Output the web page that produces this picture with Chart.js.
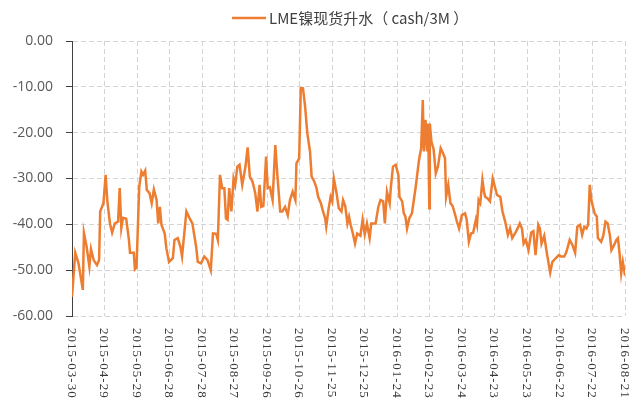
<!DOCTYPE html>
<html>
<head>
<meta charset="utf-8">
<script src="https://cdn.jsdelivr.net/npm/chart.js@4/dist/chart.umd.min.js"></script>
<style>
  body { margin: 0; background: #fff; }
  #wrap { width: 640px; height: 414px; }
</style>
</head>
<body>
<div id="wrap"><canvas id="nickelChart" width="640" height="414"></canvas></div>
<script>
// series name and axis labels
const seriesName = 'LME镍现货升水（ cash/3M ）';
const tickLabels = ['2015-03-30','2015-04-29','2015-05-29','2015-06-28','2015-07-28','2015-08-27',
  '2015-09-26','2015-10-26','2015-11-25','2015-12-25','2016-01-24','2016-02-23',
  '2016-03-24','2016-04-23','2016-05-23','2016-06-22','2016-07-22','2016-08-21'];
const tickStepDays = 30;

// days since 2015-03-30
const dayNums = [0,3,6,10,11,13.5,16,17.5,20,23,25,26,29,31,32.5,35,37,39.5,42.5,44,45.5,47,50,52.5,53.5,57,58,59.5,
  62,64,65.5,67.5,69,71.5,73.5,75.5,78,79.5,81,82.5,85.5,87,89.5,93,94.5,97.5,100,101.5,105.5,108.5,111,114.5,116,119,122,125,
  128,130,133,134.5,136.5,138.5,140.5,142,143.5,145,147,149,150.5,152.5,154.5,157,160,162,164,166.5,169,171,173,174.5,176.5,
  179,180.5,182.5,185,187.5,189.5,192,194,196.5,199,201,203.5,206,207,209.5,211,213,215,217,219.5,221,223.5,225.5,227,229.5,
  231.5,233.5,234.5,236.5,238.5,240,241.5,244,246,248.5,250,252,254,255.5,257,259,261,263,266,268,270,272,274.5,276,280,
  282.5,284.5,287,288.5,290.5,293,294,296,298.5,301,302,304.5,306,307.5,309,311,313.5,317,320,322,323.5,324.5,326,327.5,
  328.5,329.5,330,331.5,333.5,335.5,337.5,340,342,344,345,347,349,351,353,355,357,359.5,362.5,364,366,368,370,372.5,373.5,
  375,376.5,378.5,380,381,383.5,385.5,388,390,392,395,397,399.5,402,404,406,408.5,411,413,415,416.5,418.5,421,423.5,425.5,
  427.5,430,431.5,433,435.5,438,441,443,446,449,451,454,456,459,461.5,464,466,468.5,470.5,472.5,474.5,476,477.5,479,480.5,
  482,484,485,488,490,492,494,496,497.5,500,502,503.5,505,506.5,508,509,510];

const premium = [-55.8,-46.2,-48.5,-54.3,-41.9,-44.9,-49.2,-45.4,-47.8,-48.9,-47.8,-37.2,-35.4,-29.2,-34.7,-39.8,-41.8,-39.8,-39.4,-32.1,-40.8,-38.6,-38.8,-43.4,-46.2,-46.2,-49.8,-49.4,
  -31.8,-28.5,-29.2,-28.3,-32.5,-33.2,-35.4,-32.4,-34.7,-39.8,-36.2,-40.1,-42.0,-45.2,-48.2,-47.4,-43.4,-43.0,-44.9,-47.0,-37.2,-38.7,-39.8,-44.9,-48.2,-48.5,-47.0,-47.8,
  -50.0,-42.0,-42.1,-43.4,-29.2,-32.1,-32.1,-38.7,-39.0,-32.1,-37.2,-30.0,-31.4,-27.4,-27.0,-31.4,-27.4,-23.2,-29.6,-30.7,-33.2,-37.2,-31.4,-36.2,-36.0,
  -25.2,-32.1,-31.9,-34.7,-22.7,-29.6,-37.2,-37.2,-36.2,-38.0,-34.7,-32.9,-34.7,-26.7,-25.6,-10.3,-10.3,-14.3,-20.1,-24.1,-29.6,-30.7,-32.1,-34.0,-35.4,
  -37.2,-38.7,-40.5,-36.8,-34.0,-35.0,-30.0,-33.2,-36.5,-37.2,-34.7,-36.0,-39.8,-38.3,-40.1,-42.0,-44.2,-42.0,-42.5,-39.0,-42.2,-39.8,-43.0,-39.8,-39.8,
  -36.2,-34.7,-35.0,-39.8,-32.9,-35.4,-32.1,-27.4,-27.0,-29.2,-34.0,-35.0,-37.6,-38.3,-40.9,-38.7,-37.6,-31.8,-26.0,-23.4,-12.9,-24.1,-17.2,-24.1,
  -18.0,-36.5,-18.0,-22.0,-23.6,-28.9,-27.4,-23.4,-24.4,-25.6,-34.0,-31.4,-35.4,-36.0,-37.6,-39.4,-40.9,-38.0,-37.6,-39.0,-43.8,-42.0,-41.8,-39.0,-40.1,
  -34.7,-35.4,-30.3,-32.9,-34.0,-34.4,-35.0,-30.0,-31.8,-33.6,-34.0,-37.2,-39.4,-42.3,-40.9,-43.0,-42.0,-40.9,-39.8,-40.9,-44.2,-43.4,-45.6,-41.8,-41.5,
  -46.7,-40.1,-40.9,-44.2,-42.5,-46.4,-50.5,-48.2,-47.4,-46.7,-47.0,-47.0,-46.0,-43.4,-44.5,-46.2,-40.5,-40.1,-42.3,-40.5,-40.9,-40.1,-31.4,-34.7,-36.2,
  -37.6,-38.3,-43.0,-43.8,-42.5,-39.4,-39.8,-42.3,-45.6,-44.5,-43.4,-43.0,-46.4,-50.7,-48.2,-49.6,-51.2];

const yMin = -60, yMax = 0, yStep = 10;

const points = dayNums.map((d, i) => ({ x: d, y: premium[i] }));

// legend drawn by hand so it sits over the plot area like the original
const legendPlugin = {
  id: 'legendLine',
  afterDraw(chart){
    const ctx = chart.ctx;
    ctx.save();
    ctx.strokeStyle = '#ED7D31';
    ctx.lineWidth = 2.5;
    ctx.beginPath();
    ctx.moveTo(232, 18);
    ctx.lineTo(266, 18);
    ctx.stroke();
    ctx.fillStyle = '#404040';
    ctx.font = '15px "Noto Sans CJK SC"';
    ctx.textBaseline = 'middle';
    ctx.textAlign = 'left';
    ctx.fillText(seriesName, 269, 18);
    ctx.restore();
  }
};

// x labels read top-to-bottom, as in the source
const xLabelPlugin = {
  id: 'xLabels',
  afterDraw(chart){
    const ctx = chart.ctx;
    const xs = chart.scales.x;
    ctx.save();
    ctx.fillStyle = '#3a3a3a';
    ctx.font = '13px "Liberation Serif"';
    ctx.letterSpacing = '1px';
    ctx.textBaseline = 'middle';
    ctx.textAlign = 'left';
    tickLabels.forEach((lab, i) => {
      const px = xs.getPixelForValue(i * tickStepDays);
      ctx.save();
      ctx.translate(px - 1, 328);
      ctx.rotate(Math.PI / 2);
      ctx.fillText(lab, 0, 0);
      ctx.restore();
    });
    ctx.restore();
  }
};

new Chart(document.getElementById('nickelChart'), {
  type: 'line',
  data: {
    datasets: [{
      label: seriesName,
      data: points,
      borderColor: '#ED7D31',
      backgroundColor: '#ED7D31',
      borderWidth: 2.5,
      pointRadius: 0,
      tension: 0
    }]
  },
  options: {
    responsive: false,
    animation: false,
    devicePixelRatio: 1,
    layout: { padding: { top: 41, right: 15, left: 0, bottom: 0 } },
    plugins: { legend: { display: false }, tooltip: { enabled: false } },
    scales: {
      x: {
        type: 'linear',
        min: 0,
        max: tickStepDays * (tickLabels.length - 1),
        afterBuildTicks: (axis) => { axis.ticks = tickLabels.map((_, i) => ({ value: i * tickStepDays })); },
        afterFit: (axis) => { axis.height = 98; },
        ticks: { display: false },
        grid: { color: '#d4d4d4', lineWidth: 1, drawTicks: false },
        border: { display: false, dash: [5, 3] }
      },
      y: {
        min: yMin,
        max: yMax,
        afterFit: (axis) => { axis.width = 72; },
        ticks: {
          stepSize: yStep,
          padding: 13,
          color: '#595959',
          font: { family: '"Open Sans"', size: 14 },
          callback: (v) => v.toFixed(2)
        },
        grid: { color: '#d4d4d4', lineWidth: 1, tickLength: 6, tickColor: '#404040', tickBorderDash: [] },
        border: { display: true, color: '#404040', width: 1, dash: [5, 3] }
      }
    }
  },
  plugins: [legendPlugin, xLabelPlugin]
});
</script>
</body>
</html>
